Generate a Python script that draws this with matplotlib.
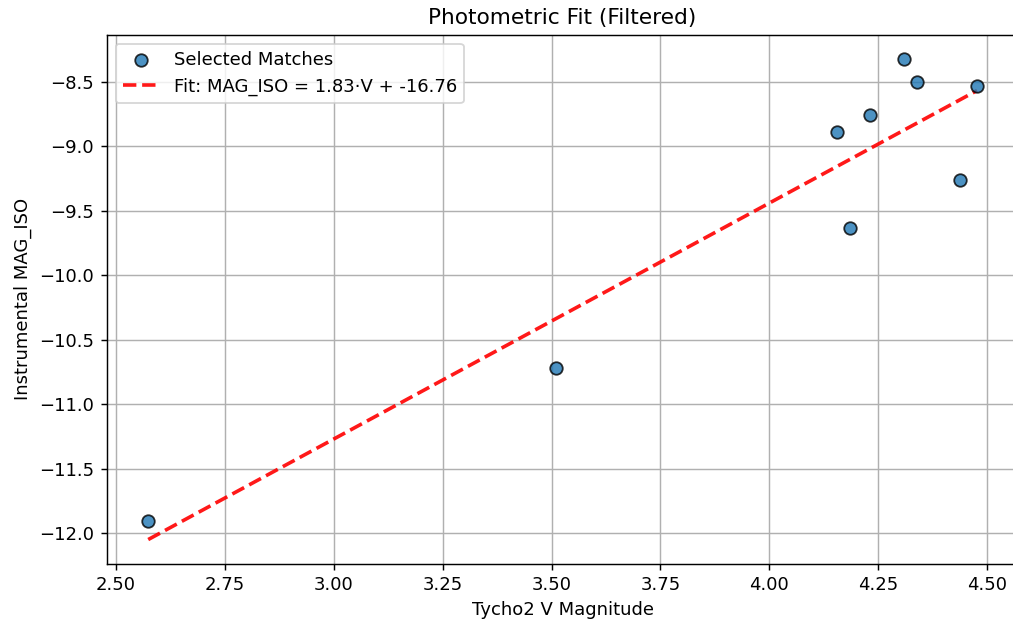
import numpy as np
import matplotlib
matplotlib.use("Agg")
import matplotlib.pyplot as plt

# Tycho2 V vs instrumental MAG_ISO
v_mag = [2.574, 3.510, 4.156, 4.186, 4.231, 4.309, 4.339, 4.438, 4.477]
mag_iso = [-11.906, -10.72, -8.888, -9.630, -8.756, -8.319, -8.50, -9.263, -8.531]

slope = 1.83
intercept = -16.76

dpi = 130
fig = plt.figure(figsize=(1013 / dpi, 624 / dpi), dpi=dpi)
ax = fig.add_axes([0.1054, 0.0968, 0.9000, 0.8479])

ax.scatter(v_mag, mag_iso, s=48, color='tab:blue', alpha=0.8,
           edgecolors='k', label='Selected Matches', zorder=3)

xs = np.sort(np.array(v_mag))
ax.plot(xs, slope * xs + intercept, 'r--', linewidth=2, alpha=0.9,
        label=f'Fit: MAG_ISO = {slope:.2f}\u00b7V + {intercept:.2f}')

ax.set_xlabel('Tycho2 V Magnitude')
ax.set_ylabel('Instrumental MAG_ISO')
ax.set_title('Photometric Fit (Filtered)')
ax.grid(True)
ax.legend(loc='upper left')

fig.savefig('out.png', dpi=dpi)
